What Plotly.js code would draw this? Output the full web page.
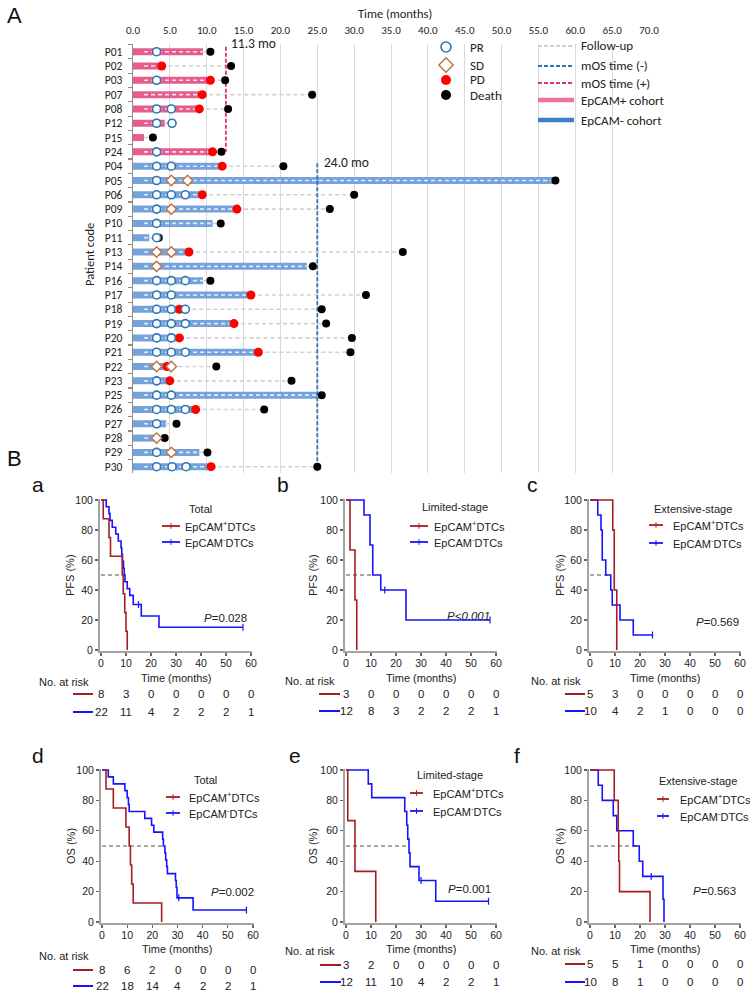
<!DOCTYPE html>
<html><head><meta charset="utf-8">
<script src="https://cdn.plot.ly/plotly-3.0.1.min.js"></script>
<style>html,body{margin:0;padding:0;background:#fff}#chart{width:750px;height:994px}</style>
</head><body><div id="chart"></div>
<script>
// ================= DATA: swimmer plot =================
const patients = ['P01','P02','P03','P07','P08','P12','P15','P24','P04','P05','P06','P09','P10','P11','P13','P14','P16','P17','P18','P19','P20','P21','P22','P23','P25','P26','P27','P28','P29','P30'];
const cohort   = ['+','+','+','+','+','+','+','+','-','-','-','-','-','-','-','-','-','-','-','-','-','-','-','-','-','-','-','-','-','-'];
const barEnd   = [9.5,3.8,10.5,9.4,9.0,4.3,1.5,10.8,12.1,57.0,9.4,14.1,10.8,2.2,7.6,23.6,9.5,16.0,7.1,13.7,6.3,17.0,5.2,5.0,25.0,8.5,4.5,3.1,9.0,10.6];
const deathTime= [10.5,13.3,12.5,24.3,12.9,null,2.7,12.0,20.4,57.3,30.0,26.7,11.9,3.5,36.6,24.4,10.5,31.6,25.6,26.2,29.7,29.5,11.3,21.5,25.6,17.8,5.9,4.3,10.1,25.0];
const prTimes  = [[3.2],[],[3.2],[],[3.2,5.2],[3.2,5.3],[],[3.2],[3.2,5.2],[3.2],[3.2,5.2,7.1],[3.2],[3.2],[3.2],[],[],[3.2,5.2,7.1],[3.2,5.2],[3.2,5.2,7.1],[3.2,5.2,7.1],[3.2,5.2],[3.2,5.2,7.1],[],[3.2],[3.2,5.2],[3.2,5.2,7.1],[3.2],[],[3.2],[3.2,5.3,7.2]];
const sdTimes  = [[],[],[],[],[],[],[],[],[],[5.2,7.4],[],[5.2],[],[],[3.2,5.2],[3.2],[],[],[],[],[],[],[3.2,5.2],[],[],[],[],[3.2],[5.2],[]];
const pdTime   = [null,3.9,10.5,9.4,9.0,null,null,10.8,12.1,null,9.4,14.1,null,null,7.6,null,null,16.0,6.3,13.7,6.3,17.0,4.6,5.0,null,8.5,null,null,null,10.6];
const mosDrawnPos = 12.6, mosDrawnNeg = 25.0;
const mosLabelPos = '11.3 mo', mosLabelNeg = '24.0 mo';
const swimTicks = [0,5,10,15,20,25,30,35,40,45,50,55,60,65,70];

// ================= DATA: Kaplan-Meier =================
const pfsTotalPosT=[0,0.9,3.2,3.8,8.5,8.9,9.5,10.0,10.5], pfsTotalPosS=[100,87.5,75,62.5,50,37.5,25,12.5,0];
const pfsTotalNegT=[0,2.1,3.2,3.6,4.5,5.9,6.9,8.0,8.3,8.6,9.0,9.3,9.6,10.5,11.5,12.9,16.1,23.2,56.8];
const pfsTotalNegS=[100,95.5,90.9,86.4,81.8,77.3,72.7,68.2,63.6,59.1,54.5,50,45.5,40.9,36.4,30.3,22.7,15.2,15.2];
const pfsLimPosT=[0,1.6,3.6,4.3], pfsLimPosS=[100,66.7,33.3,0];
const pfsLimNegT=[0,7.2,9.6,10.7,13.9,24.0,57.6], pfsLimNegS=[100,90,70,50,40,20,20];
const pfsExtPosT=[0,9.1,9.7,10.7], pfsExtPosS=[100,80,40,0];
const pfsExtNegT=[0,3.1,4.4,4.9,6.3,8.3,8.9,12.0,17.3,25.0], pfsExtNegS=[100,90,80,60,50,40,30,20,10,10];
const osTotalPosT=[0,1.6,4.5,9.5,10.8,11.3,11.8,12.4,23.7], osTotalPosS=[100,87.5,75,62.5,50,37.5,25,12.5,0];
const osTotalNegT=[0,2.5,4.5,9.1,10.0,10.5,10.8,17.0,19.7,20.6,24.1,24.4,25.0,25.3,25.7,26.0,29.2,29.5,29.8,36.2,57.4];
const osTotalNegS=[100,95.5,90.9,86.4,81.8,77.3,72.7,68.2,63.6,59.1,54.5,50,45.5,40.9,36.4,31.8,27.3,22.7,15.9,7.9,7.9];
const osLimPosT=[0,0.7,3.6,11.9], osLimPosS=[100,66.7,33.3,0];
const osLimNegT=[0,8.9,10.3,23.5,24.3,24.7,25.2,25.6,29.2,35.9,57.0], osLimNegS=[100,90.9,81.8,72.7,63.6,54.5,45.5,36.4,27.3,13.6,13.6];
const osExtPosT=[0,9.7,11.3,11.5,11.8,24.0], osExtPosS=[100,80,60,40,20,0];
const osExtNegT=[0,3.3,4.9,9.3,10.7,17.3,19.7,21.1,29.2,29.6], osExtNegS=[100,90,80,70,60,50,40,30,15,0];
const medians=[9.3,10.7,8.3,24.4,25.0,19.7];
const pValues=['<i>P</i>=0.028','<i>P&lt;0.001</i>','<i>P</i>=0.569','<i>P</i>=0.002','<i>P</i>=0.001','<i>P</i>=0.563'];
const panelTitles=['Total','Limited-stage','Extensive-stage','Total','Limited-stage','Extensive-stage'];
const riskTimes=[0,10,20,30,40,50,60];
const riskPfsTotalPos=[8,3,0,0,0,0,0], riskPfsTotalNeg=[22,11,4,2,2,2,1];
const riskPfsLimPos=[3,0,0,0,0,0,0],   riskPfsLimNeg=[12,8,3,2,2,2,1];
const riskPfsExtPos=[5,3,0,0,0,0,0],   riskPfsExtNeg=[10,4,2,1,0,0,0];
const riskOsTotalPos=[8,6,2,0,0,0,0],  riskOsTotalNeg=[22,18,14,4,2,2,1];
const riskOsLimPos=[3,2,0,0,0,0,0],    riskOsLimNeg=[12,11,10,4,2,2,1];
const riskOsExtPos=[5,5,1,0,0,0,0],    riskOsExtNeg=[10,8,1,0,0,0,0];

// ================= LAYOUT HELPERS =================
const W=750,H=994;
const px=x=>x/W, py=y=>1-y/H;
const PINK='#e65c8f', BLUEBAR='#74a2da', PINKL='#ec6f9d', BLUEL='#3f7fc6';
const KMRED='#a31d22', KMBLUE='#1414ff';
const SW_FONT='Carlito, Lato, sans-serif', KM_FONT='Liberation Sans, Arial, sans-serif';

const traces=[]; const annotations=[];

// ----- swimmer -----
function pushSeg(arrx,arry,a,b,i){ if(a==null||b==null||b<=a) return; arrx.push(a,b,null); arry.push(i,i,null); }
const barP={x:[],y:[]}, barN={x:[],y:[]}, fuIn={x:[],y:[]}, fuOut={x:[],y:[]};
const FU_START=1.5;
patients.forEach((p,i)=>{
  const tgt = cohort[i]==='+'?barP:barN;
  pushSeg(tgt.x,tgt.y,0,barEnd[i],i);
  const evs=[barEnd[i]].concat(prTimes[i],sdTimes[i],pdTime[i]==null?[]:[pdTime[i]]);
  const fend = deathTime[i]!=null?deathTime[i]:Math.max(...evs);
  pushSeg(fuIn.x,fuIn.y,FU_START,Math.min(barEnd[i],fend),i);
  pushSeg(fuOut.x,fuOut.y,barEnd[i],fend,i);
});
traces.push({x:barP.x,y:barP.y,mode:'lines',line:{color:PINK,width:7},xaxis:'x',yaxis:'y',hoverinfo:'skip'});
traces.push({x:barN.x,y:barN.y,mode:'lines',line:{color:BLUEBAR,width:7},xaxis:'x',yaxis:'y',hoverinfo:'skip'});
traces.push({x:fuIn.x,y:fuIn.y,mode:'lines',line:{color:'rgba(255,255,255,0.8)',width:1.6,dash:'4px,3px'},xaxis:'x',yaxis:'y',hoverinfo:'skip'});
traces.push({x:fuOut.x,y:fuOut.y,mode:'lines',line:{color:'#d2d2d2',width:1.6,dash:'4px,3px'},xaxis:'x',yaxis:'y',hoverinfo:'skip'});
const firstNeg=cohort.indexOf('-'), lastPos=cohort.lastIndexOf('+');
traces.push({x:[mosDrawnPos,mosDrawnPos],y:[-0.35,lastPos],mode:'lines',line:{color:'#e0307a',width:1.8,dash:'4px,2px'},xaxis:'x',yaxis:'y'});
traces.push({x:[mosDrawnNeg,mosDrawnNeg],y:[firstNeg-0.2,patients.length-1],mode:'lines',line:{color:'#2e75b6',width:1.8,dash:'4px,2px'},xaxis:'x',yaxis:'y'});
function pts(arrs){const x=[],y=[];arrs.forEach((a,i)=>a.forEach(v=>{x.push(v);y.push(i);}));return {x,y};}
const death=pts(deathTime.map(v=>v==null?[]:[v]));
const pd=pts(pdTime.map(v=>v==null?[]:[v]));
const pr=pts(prTimes), sd=pts(sdTimes);
traces.push({x:death.x,y:death.y,mode:'markers',marker:{color:'#000',size:8},xaxis:'x',yaxis:'y'});
traces.push({x:pd.x,y:pd.y,mode:'markers',marker:{color:'#ff0000',size:9},xaxis:'x',yaxis:'y'});
traces.push({x:pr.x,y:pr.y,mode:'markers',marker:{color:'#fff',size:8,line:{color:'#2e75b6',width:1.6}},xaxis:'x',yaxis:'y'});
traces.push({x:sd.x,y:sd.y,mode:'markers',marker:{symbol:'diamond',color:'#fff',size:8,line:{color:'#c0703f',width:1.4}},xaxis:'x',yaxis:'y'});

const rowTop=44,rowBot=473, row0=51.7, rowH=14.31;
const yR0=-(row0-rowTop)/rowH, yR1=(patients.length-1)+(rowBot-(row0+(patients.length-1)*rowH))/rowH;
const layout={
  width:W,height:H,margin:{l:0,r:0,t:0,b:0},showlegend:false,
  paper_bgcolor:'#fff',plot_bgcolor:'rgba(0,0,0,0)',
  xaxis:{domain:[px(133),px(649)],range:[0,70],side:'top',anchor:'y',tickvals:swimTicks,tickformat:'.1f',
    showgrid:true,gridcolor:'#d9d9d9',gridwidth:1,zeroline:false,showline:false,ticks:'outside',ticklen:5,tickcolor:'rgba(0,0,0,0)',
    tickfont:{family:SW_FONT,size:11,color:'#222'},fixedrange:true},
  yaxis:{domain:[py(rowBot),py(rowTop)],range:[yR1,yR0],anchor:'x',tickvals:patients.map((p,i)=>i),ticktext:patients,
    showgrid:false,zeroline:false,showline:true,linecolor:'#8c8c8c',linewidth:1.3,ticks:'outside',ticklen:7,tickcolor:'rgba(0,0,0,0)',
    minor:{tickvals:patients.map((p,i)=>i+0.5).concat([-0.5]),ticks:'outside',ticklen:4,tickcolor:'#8c8c8c',tickwidth:1.2,showgrid:false},
    tickfont:{family:SW_FONT,size:11.5,color:'#222'},fixedrange:true},
  annotations:annotations,
};
function ann(text,x,y,o={}){annotations.push(Object.assign({text,x:px(x),y:py(y),xref:'paper',yref:'paper',showarrow:false,
  xanchor:'center',yanchor:'middle',font:{family:SW_FONT,size:12.5,color:'#222'}},o));}
ann('A',14,16,{font:{family:KM_FONT,size:22,color:'#111'}});
ann('B',14,458,{font:{family:KM_FONT,size:22,color:'#111'}});
ann('Time (months)',395,14,{font:{family:SW_FONT,size:12.5,color:'#222'}});
ann('Patient code',89,255,{textangle:-90,font:{family:SW_FONT,size:12.5,color:'#222'}});
ann(mosLabelPos,229,44,{xanchor:'left',font:{family:SW_FONT,size:13.5,color:'#222'}});
ann(mosLabelNeg,322,162,{xanchor:'left',font:{family:SW_FONT,size:13.5,color:'#222'}});

// overlay pixel axes for legend symbols
layout.xaxis8={domain:[0,1],range:[0,W],visible:false,fixedrange:true,anchor:'y8'};
layout.yaxis8={domain:[0,1],range:[H,0],visible:false,fixedrange:true,anchor:'x8'};
function ov(t){traces.push(Object.assign({xaxis:'x8',yaxis:'y8',hoverinfo:'skip'},t));}
ov({x:[446],y:[47],mode:'markers',marker:{color:'#fff',size:10,line:{color:'#2e75b6',width:1.6}}});
ov({x:[446],y:[65],mode:'markers',marker:{symbol:'diamond',color:'#fff',size:11,line:{color:'#c0703f',width:1.4}}});
ov({x:[446],y:[80],mode:'markers',marker:{color:'#ff0000',size:10}});
ov({x:[446],y:[95],mode:'markers',marker:{color:'#000',size:10}});
const legL=[['Follow-up',46,'#cfcfcf',2,'4px,2px'],['mOS time (-)',66,'#2e75b6',2,'4px,2px'],['mOS time (+)',83,'#e0307a',2,'4px,2px'],
  ['EpCAM+ cohort',100,PINKL,4.5,'solid'],['EpCAM- cohort',120,BLUEL,4.5,'solid']];
legL.forEach(l=>{ov({x:[538,574],y:[l[1],l[1]],mode:'lines',line:{color:l[2],width:l[3],dash:l[4]}});
  ann(l[0],579,l[1],{xanchor:'left',font:{family:SW_FONT,size:13,color:'#222'}});});
[['PR',47],['SD',65],['PD',80],['Death',95]].forEach(l=>ann(l[0],468,l[1],{xanchor:'left',font:{family:SW_FONT,size:13,color:'#222'}}));

// ----- KM panels -----
const panels=[
 {lab:'a',labx:38,laby:485,x0:101,x60:251,y0:650,y100:500,yt:'PFS (%)',pT:pfsTotalPosT,pS:pfsTotalPosS,nT:pfsTotalNegT,nS:pfsTotalNegS,rp:riskPfsTotalPos,rn:riskPfsTotalNeg,
  tt:[200,509],lg:[162,180,183,526,542],pv:[225,618],ytx:70,tm:678,nar:[64,682],rr:[694,712],rl:[73,93],cens:[[15.0,30.3],[56.8,15.2]]},
 {lab:'b',labx:283,laby:485,x0:346,x60:496,y0:650,y100:500,yt:'PFS (%)',pT:pfsLimPosT,pS:pfsLimPosS,nT:pfsLimNegT,nS:pfsLimNegS,rp:riskPfsLimPos,rn:riskPfsLimNeg,
  tt:[455,507],lg:[410,428,432,526,542],pv:[468,616],ytx:313,tm:678,nar:[310,681],rr:[694,711],rl:[319,340],cens:[[15.5,40],[57.6,20]]},
 {lab:'c',labx:532,laby:485,x0:590,x60:740,y0:650,y100:500,yt:'PFS (%)',pT:pfsExtPosT,pS:pfsExtPosS,nT:pfsExtNegT,nS:pfsExtNegS,rp:riskPfsExtPos,rn:riskPfsExtNeg,
  tt:[693,509],lg:[649,663,671,525,543],pv:[717,622],ytx:560,tm:678,nar:[556,681],rr:[694,711],rl:[565,585],cens:[[25,10]]},
 {lab:'d',labx:38,laby:755,x0:102,x60:253,y0:922,y100:770,yt:'OS (%)',pT:osTotalPosT,pS:osTotalPosS,nT:osTotalNegT,nS:osTotalNegS,rp:riskOsTotalPos,rn:riskOsTotalNeg,
  tt:[205,780],lg:[166,180,187,797,813],pv:[232,892],ytx:71,tm:949,nar:[64,956],rr:[970,986],rl:[73,93],cens:[[30.5,15.9],[57.4,7.9]]},
 {lab:'e',labx:295,laby:755,x0:346,x60:496,y0:922,y100:770,yt:'OS (%)',pT:osLimPosT,pS:osLimPosS,nT:osLimNegT,nS:osLimNegS,rp:riskOsLimPos,rn:riskOsLimNeg,
  tt:[450,775],lg:[410,423,431,793,811],pv:[469,889],ytx:313,tm:949,nar:[310,951],rr:[965,982],rl:[320,341],cens:[[30,27.3],[57,13.6]]},
 {lab:'f',labx:517,laby:755,x0:590,x60:740,y0:922,y100:770,yt:'OS (%)',pT:osExtPosT,pS:osExtPosS,nT:osExtNegT,nS:osExtNegS,rp:riskOsExtPos,rn:riskOsExtNeg,
  tt:[698,781],lg:[657,669,678,799,816],pv:[714,891],ytx:560,tm:949,nar:[556,951],rr:[964,982],rl:[565,585],cens:[[24.5,30]]},
];
const KS=11;
panels.forEach((P,k)=>{
  const n=k+2, xa='x'+n, ya='y'+n;
  const kx=(P.x60-P.x0)/60, ky=(P.y0-P.y100)/100, padX=0.4, padY=0.8;
  layout['xaxis'+n]={domain:[px(P.x0-padX*kx),px(P.x60+padX*kx)],range:[-padX,60+padX],anchor:ya,tickvals:riskTimes,
    showgrid:false,zeroline:false,showline:true,linecolor:'#a3a3a3',linewidth:2,ticks:'outside',ticklen:3,tickwidth:1.3,tickcolor:'#666',
    ticklabelstandoff:-2,tickfont:{family:KM_FONT,size:10.5,color:'#222'},fixedrange:true};
  layout['yaxis'+n]={domain:[py(P.y0+padY*ky),py(P.y100-padY*ky)],range:[-padY,100+padY],anchor:xa,tickvals:[0,20,40,60,80,100],
    showgrid:false,zeroline:false,showline:true,linecolor:'#a3a3a3',linewidth:2,ticks:'outside',ticklen:3,tickwidth:1.3,tickcolor:'#666',
    tickfont:{family:KM_FONT,size:10.5,color:'#222'},fixedrange:true};
  traces.push({x:[0,medians[k]],y:[50,50],mode:'lines',line:{color:'#8a8a8a',width:1.3,dash:'4px,3px'},xaxis:xa,yaxis:ya});
  traces.push({x:P.nT,y:P.nS,mode:'lines',line:{color:KMBLUE,width:1.6,shape:'hv'},xaxis:xa,yaxis:ya});
  traces.push({x:P.pT,y:P.pS,mode:'lines',line:{color:KMRED,width:1.6,shape:'hv'},xaxis:xa,yaxis:ya});
  traces.push({x:P.cens.map(c=>c[0]),y:P.cens.map(c=>c[1]),mode:'markers',marker:{symbol:'line-ns-open',size:5,color:KMBLUE,line:{color:KMBLUE,width:1.2}},xaxis:xa,yaxis:ya});
  ann(P.lab,P.labx,P.laby,{font:{family:KM_FONT,size:21,color:'#111'}});
  ann(panelTitles[k],P.tt[0],P.tt[1],{font:{family:KM_FONT,size:KS,color:'#222'}});
  [[KMRED,'EpCAM<sup>+</sup>DTCs',P.lg[3]],[KMBLUE,'EpCAM<sup>-</sup>DTCs',P.lg[4]]].forEach(l=>{
    ov({x:[P.lg[0],P.lg[1]],y:[l[2],l[2]],mode:'lines',line:{color:l[0],width:1.8}});
    ov({x:[(P.lg[0]+P.lg[1])/2],y:[l[2]],mode:'markers',marker:{symbol:'line-ns-open',size:4,color:l[0],line:{color:l[0],width:1}}});
    ann(l[1],P.lg[2],l[2],{xanchor:'left',font:{family:KM_FONT,size:KS,color:'#222'}});
  });
  ann(pValues[k],P.pv[0],P.pv[1],{font:{family:KM_FONT,size:11.5,color:'#222'}});
  ann(P.yt,P.ytx,(P.y0+P.y100)/2,{textangle:-90,font:{family:KM_FONT,size:KS,color:'#222'}});
  ann('Time (months)',(P.x0+P.x60)/2,P.tm,{font:{family:KM_FONT,size:KS,color:'#222'}});
  ann('No. at risk',P.nar[0],P.nar[1],{font:{family:KM_FONT,size:KS,color:'#222'}});
  [[KMRED,P.rp,P.rr[0]],[KMBLUE,P.rn,P.rr[1]]].forEach(r=>{
    ov({x:[P.rl[0],P.rl[1]],y:[r[2],r[2]],mode:'lines',line:{color:r[0],width:2}});
    riskTimes.forEach((t,j)=>annotations.push({text:String(r[1][j]),x:t,xref:xa,y:py(r[2]),yref:'paper',showarrow:false,
      xanchor:'center',yanchor:'middle',font:{family:KM_FONT,size:11.5,color:'#222'}}));
  });
});

Plotly.newPlot('chart',traces,layout,{staticPlot:true,displayModeBar:false});
</script></body></html>
